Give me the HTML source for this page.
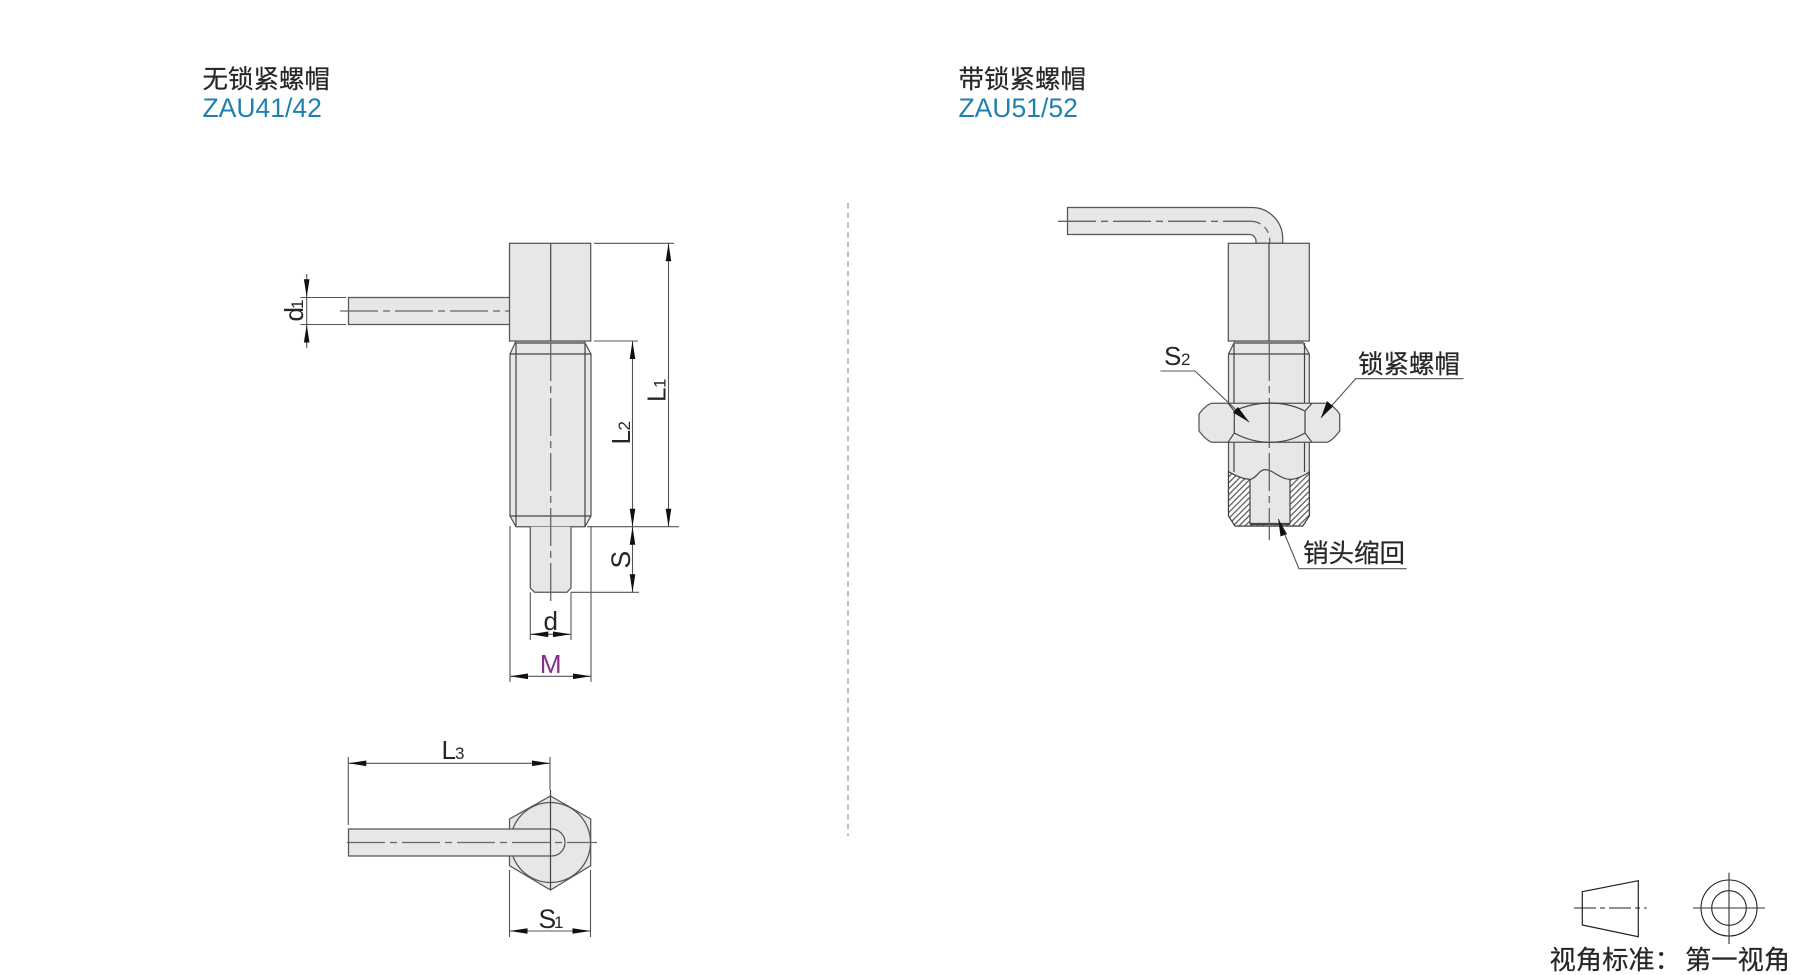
<!DOCTYPE html>
<html><head><meta charset="utf-8"><style>
html,body{margin:0;padding:0;background:#fff;width:1800px;height:975px;overflow:hidden}
svg{display:block}
text{font-family:"Liberation Sans","Noto Sans CJK SC",sans-serif;fill:#262626}
.f{fill:#e6e7e8;stroke:#555;stroke-width:1.25}
.l{fill:none;stroke:#444;stroke-width:1.2}
.d{fill:none;stroke:#555;stroke-width:1.1}
.c{fill:none;stroke:#666;stroke-width:1.3;stroke-dasharray:38 5 7 5}
.a{fill:#111;stroke:none}
.k{stroke:#262626;stroke-width:.2}
</style></head><body>
<svg width="1800" height="975" viewBox="0 0 1800 975" xmlns="http://www.w3.org/2000/svg">
<defs>
<pattern id="h" width="4.2" height="4.2" patternUnits="userSpaceOnUse" patternTransform="rotate(45)">
<rect width="4.2" height="4.2" fill="#fff"/><rect x="0" y="0" width="1.2" height="4.2" fill="#555"/>
</pattern>
</defs>

<!-- titles -->
<text class="k" x="202.5" y="88" font-size="25.5">无锁紧螺帽</text>
<text x="202.5" y="117" font-size="26.5" style="fill:#1f80b0">ZAU41/42</text>
<text class="k" x="958.5" y="88" font-size="25.5">带锁紧螺帽</text>
<text x="958.5" y="117" font-size="26.5" style="fill:#1f80b0">ZAU51/52</text>

<!-- divider -->
<line x1="848" y1="203" x2="848" y2="836" stroke="#aaa" stroke-width="1.5" stroke-dasharray="5.5 4.2"/>

<!-- LEFT: front view -->
<rect class="f" x="348.5" y="297.5" width="161.5" height="27"/>
<path class="c" d="M340 311H509"/>
<path class="f" d="M516 341L510 354V516L516 526.7H585L591 516V354L584 341Z"/>
<path class="f" d="M530.3 526.7V588L534.5 592.3H567L571 588V526.7"/>
<path class="l" d="M510 354H591M510 516H591M516 343H584M516 343V526.7M585 343V526.7"/>
<rect class="f" x="509.5" y="243.3" width="81.2" height="97.7"/>
<line class="l" x1="550.7" y1="243" x2="550.7" y2="341"/>
<path class="c" d="M550.7 343V602"/>

<!-- LEFT dims -->
<path class="d" d="M300.5 297.5H346M300.5 324.5H346M306.7 274V348"/>
<path class="a" d="M306.7 297.3l-2.8-18h5.6zM306.7 324.5l-2.8 18h5.6z"/>
<text transform="translate(303 321.5) rotate(-90)" style="font-size:26px">d</text>
<text transform="translate(303 309) rotate(-90)" style="font-size:17px">1</text>

<path class="d" d="M594 243.3H674M668.5 243.3V526.7M594 341H638M632.5 341V592.3M587 526.7H679M571 592.3H639"/>
<path class="a" d="M668.5 243.3l-2.8 18h5.6zM668.5 526.7l-2.8-18h5.6zM632.5 341l-2.8 18h5.6zM632.5 526.7l-2.8-18h5.6zM632.5 526.7l-2.8 18h5.6zM632.5 592.3l-2.8-18h5.6z"/>
<text transform="translate(665.5 402) rotate(-90)" style="font-size:26px">L</text>
<text transform="translate(665.5 388) rotate(-90)" style="font-size:17px">1</text>
<text transform="translate(630 444.5) rotate(-90)" style="font-size:26px">L</text>
<text transform="translate(630 430.5) rotate(-90)" style="font-size:17px">2</text>
<text transform="translate(630 568.5) rotate(-90)" style="font-size:26.5px">S</text>

<path class="d" d="M530.3 592.3V640M571 592.3V640M530.3 634.3H571M510 526V682M591 526V682M510 676.3H591"/>
<path class="a" d="M530.3 634.3l18-2.8v5.6zM571 634.3l-18-2.8v5.6zM510 676.3l18-2.8v5.6zM591 676.3l-18-2.8v5.6z"/>
<text x="550.7" y="630" text-anchor="middle" style="font-size:26px">d</text>
<text x="550.7" y="673" text-anchor="middle" style="font-size:26px;fill:#8a2a88">M</text>

<!-- LEFT: top view -->
<path class="f" d="M550.5 796L590.7 819V865.7L550.5 890L509.5 865.7V819Z"/>
<circle class="f" cx="550.5" cy="842.5" r="40"/>
<path class="f" d="M348.5 829H551.5A13.5 13.5 0 0 1 551.5 856H348.5Z"/>
<path class="l" d="M550.5 790V890"/>
<path class="c" d="M347 842.5H597"/>
<path class="d" d="M348.3 757V825M550 757V790M509.5 870V937M590.5 870V937M348.3 763.3H550M509.5 931H590.5"/>
<path class="a" d="M348.3 763.3l18-2.8v5.6zM550 763.3l-18-2.8v5.6zM509.5 931l18-2.8v5.6zM590.5 931l-18-2.8v5.6z"/>
<text x="441.5" y="759" style="font-size:26px">L</text>
<text x="455" y="759" style="font-size:17px">3</text>
<text x="538.5" y="928" style="font-size:26.5px">S</text>
<text x="554" y="928" style="font-size:17px">1</text>

<!-- RIGHT: main view -->
<path class="f" d="M1067.5 207.5H1251.7A31 31 0 0 1 1282.7 238.5V243.3H1256V241A6.5 6.5 0 0 0 1249.5 234.5H1067.5Z"/>
<path class="c" d="M1058 221.3H1251A18.7 18.7 0 0 1 1269.7 240V243"/>
<path class="f" d="M1235 341L1228.5 354V516L1235 526H1302.7L1309.3 516V354L1302 341Z"/>
<path class="l" d="M1228.5 354H1309.3M1235 343H1302M1234 343V472M1304.5 343V472"/>
<rect class="f" x="1228.3" y="243.3" width="81" height="97.7"/>
<line class="l" x1="1269" y1="243" x2="1269" y2="341"/>

<!-- section -->
<path d="M1228.5 471.7C1236 476 1243 479 1250 479.3V523.5H1290V479.3C1297 479 1303 476 1309.3 472V516L1302.7 526H1235L1228.5 516Z" fill="url(#h)" stroke="none"/>
<path class="l" d="M1228.5 471.7C1236 476 1243 479.3 1250 479.3C1256 479 1259 469.6 1265 469.6C1273 469.6 1280 479.3 1290 479.3C1297 479.3 1303 476 1309.3 472"/>
<path class="l" d="M1250 479V523.5H1290V479M1250 524.5H1290"/>
<path class="l" d="M1228.5 471V516L1235 526H1302.7L1309.3 516V471"/>
<path class="c" d="M1269.3 343V540"/>

<!-- nut -->
<path class="f" d="M1212 403.3H1327Q1332 404 1339.7 414V431Q1332 441 1327 442.3H1212Q1207 441 1199 431V414Q1207 404 1212 403.3Z"/>
<path class="l" d="M1228 403.3L1234.3 411C1246 405.5 1258 403 1270 403C1282 403 1294 405.5 1305 411L1312 403.3M1234.3 411V433M1305 411V433M1228 442.3L1234.3 433C1246 439.5 1258 442.3 1270 442.3C1282 442.3 1294 439.5 1305 433L1312 442.3"/>
<path class="c" d="M1269.3 404V442"/>

<!-- leaders -->
<path class="d" d="M1160.5 371H1195L1249 422M1463.5 378.7H1355.7L1321 417.7M1406.7 568.7H1299L1278.3 519"/>
<path class="a" d="M1249.3 422.3L1233 412.5L1238 407ZM1321 417.7L1327 401L1333 406.5ZM1278.3 519L1287 534L1280.5 536.5Z"/>
<text x="1164" y="365" style="font-size:26px">S</text>
<text x="1181" y="365" style="font-size:17px">2</text>
<text class="k" x="1358" y="373" font-size="25.5">锁紧螺帽</text>
<text class="k" x="1303" y="562" font-size="25.5">销头缩回</text>

<!-- projection symbol -->
<path d="M1582.3 891.7L1638.3 880.7V936.7L1582.3 925Z" fill="none" stroke="#222" stroke-width="1.2"/>
<path d="M1574 908H1646.7" fill="none" stroke="#222" stroke-width="1.1" stroke-dasharray="22 4 5 4"/>
<circle cx="1729" cy="908" r="28" fill="none" stroke="#222" stroke-width="1.1"/>
<circle cx="1729" cy="908" r="17.3" fill="none" stroke="#222" stroke-width="1.1"/>
<path d="M1693 908H1765M1729 872.7V944" fill="none" stroke="#333" stroke-width="1.1"/>
<text class="k" x="1549.5" y="969" font-size="26.3">视角标准：</text>
<text class="k" x="1685" y="969" font-size="26.3">第一视角</text>
</svg>
</body></html>
